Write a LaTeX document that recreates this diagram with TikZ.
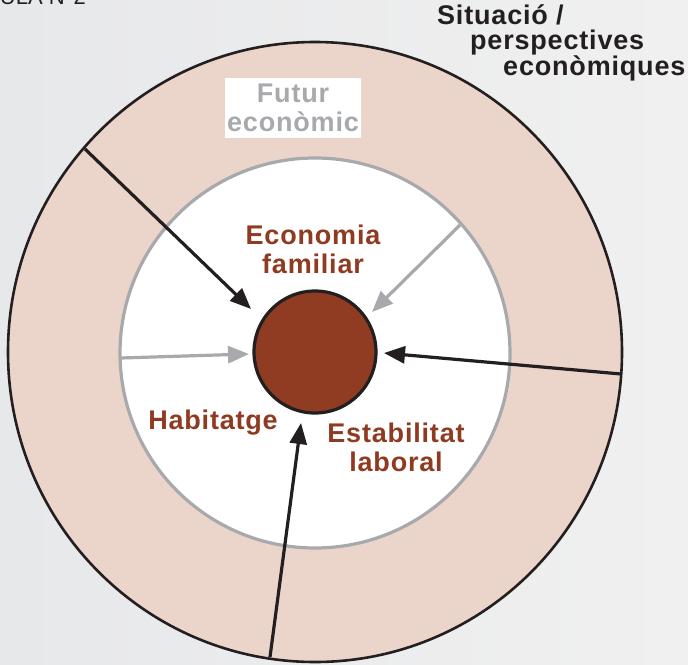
\documentclass[tikz,border=0pt]{standalone}
\usepackage{fontspec}
\setmainfont{Liberation Sans}
\newfontfamily\lblfont[LetterSpace=3]{Liberation Sans}
\usetikzlibrary{arrows.meta,shapes.geometric}
\definecolor{bgL}{HTML}{E7E8EA}
\definecolor{bgR}{HTML}{F0F0F0}
\definecolor{pinkband}{HTML}{EBD5CA}
\definecolor{ringgray}{HTML}{A7A9AC}
\definecolor{brownc}{HTML}{8F3C22}
\definecolor{browntxt}{HTML}{8E3B22}
\definecolor{ink}{HTML}{231F20}
\tikzset{
  brownlbl/.style={font=\lblfont\bfseries\fontsize{27}{29}\selectfont, text=browntxt, align=center, inner sep=0pt},
  blackarrow/.style={draw=ink, line width=3.2pt, -{Triangle[length=21pt,width=17pt]}},
  grayarrow/.style={draw=ringgray, line width=3.2pt, -{Triangle[length=21pt,width=17pt]}},
}
\begin{document}
\begin{tikzpicture}[x=1pt,y=-1pt]
\clip (0,0) rectangle (688,664);
\useasboundingbox (0,0) rectangle (688,664);
\shade[left color=bgL,right color=bgR] (0,0) rectangle (688,664);

% title fragment (cut off at the top, as in the reference)
\node[anchor=base east, inner sep=0pt, text=ink, font=\fontsize{22}{24}\selectfont] (title) at (86,4) {TAULA N°2};

% circles
\node[ellipse, draw=ink, line width=2.6pt, fill=pinkband, minimum width=614pt, minimum height=620pt, inner sep=0pt] (outer) at (315,352) {};
\node[circle, draw=ringgray, line width=3.2pt, fill=white, minimum size=390pt, inner sep=0pt] (ring) at (315,353) {};
\node[circle, draw=ink, line width=3.2pt, fill=brownc, minimum size=122pt, inner sep=0pt] (core) at (315,352) {};

% arrow end points
\coordinate (s1) at (85,149);
\coordinate (t1) at (251,309);
\coordinate (s2) at (460,225);
\coordinate (t2) at (372,312);
\coordinate (s3) at (121,358);
\coordinate (t3) at (249,354);
\coordinate (s4) at (621,374);
\coordinate (t4) at (384,353);
\coordinate (s5) at (270,657);
\coordinate (t5) at (301,423);

\draw[blackarrow] (s1) -- (t1);
\draw[grayarrow] (s2) -- (t2);
\draw[grayarrow] (s3) -- (t3);
\draw[blackarrow] (s4) -- (t4);
\draw[blackarrow] (s5) -- (t5);

% labels
\node[brownlbl] (econ) at (313,249) {Economia\\familiar};
\node[brownlbl, anchor=base] (hab) at (213,429) {Habitatge};
\node[brownlbl] (estab) at (396,447) {Estabilitat\\laboral};

\node[fill=white, minimum width=136pt, minimum height=60pt, inner sep=0pt, align=center,
      text=ringgray, font=\lblfont\bfseries\fontsize{27}{29}\selectfont] (futur) at (293,108) {Futur\\econòmic};

\node[anchor=north west, inner sep=0pt, align=left, text=ink,
      font=\lblfont\bfseries\fontsize{27}{25}\selectfont] (sit) at (437,4)
      {Situació /\\\hspace*{33pt}perspectives\\\hspace*{66pt}econòmiques};
\end{tikzpicture}
\end{document}
